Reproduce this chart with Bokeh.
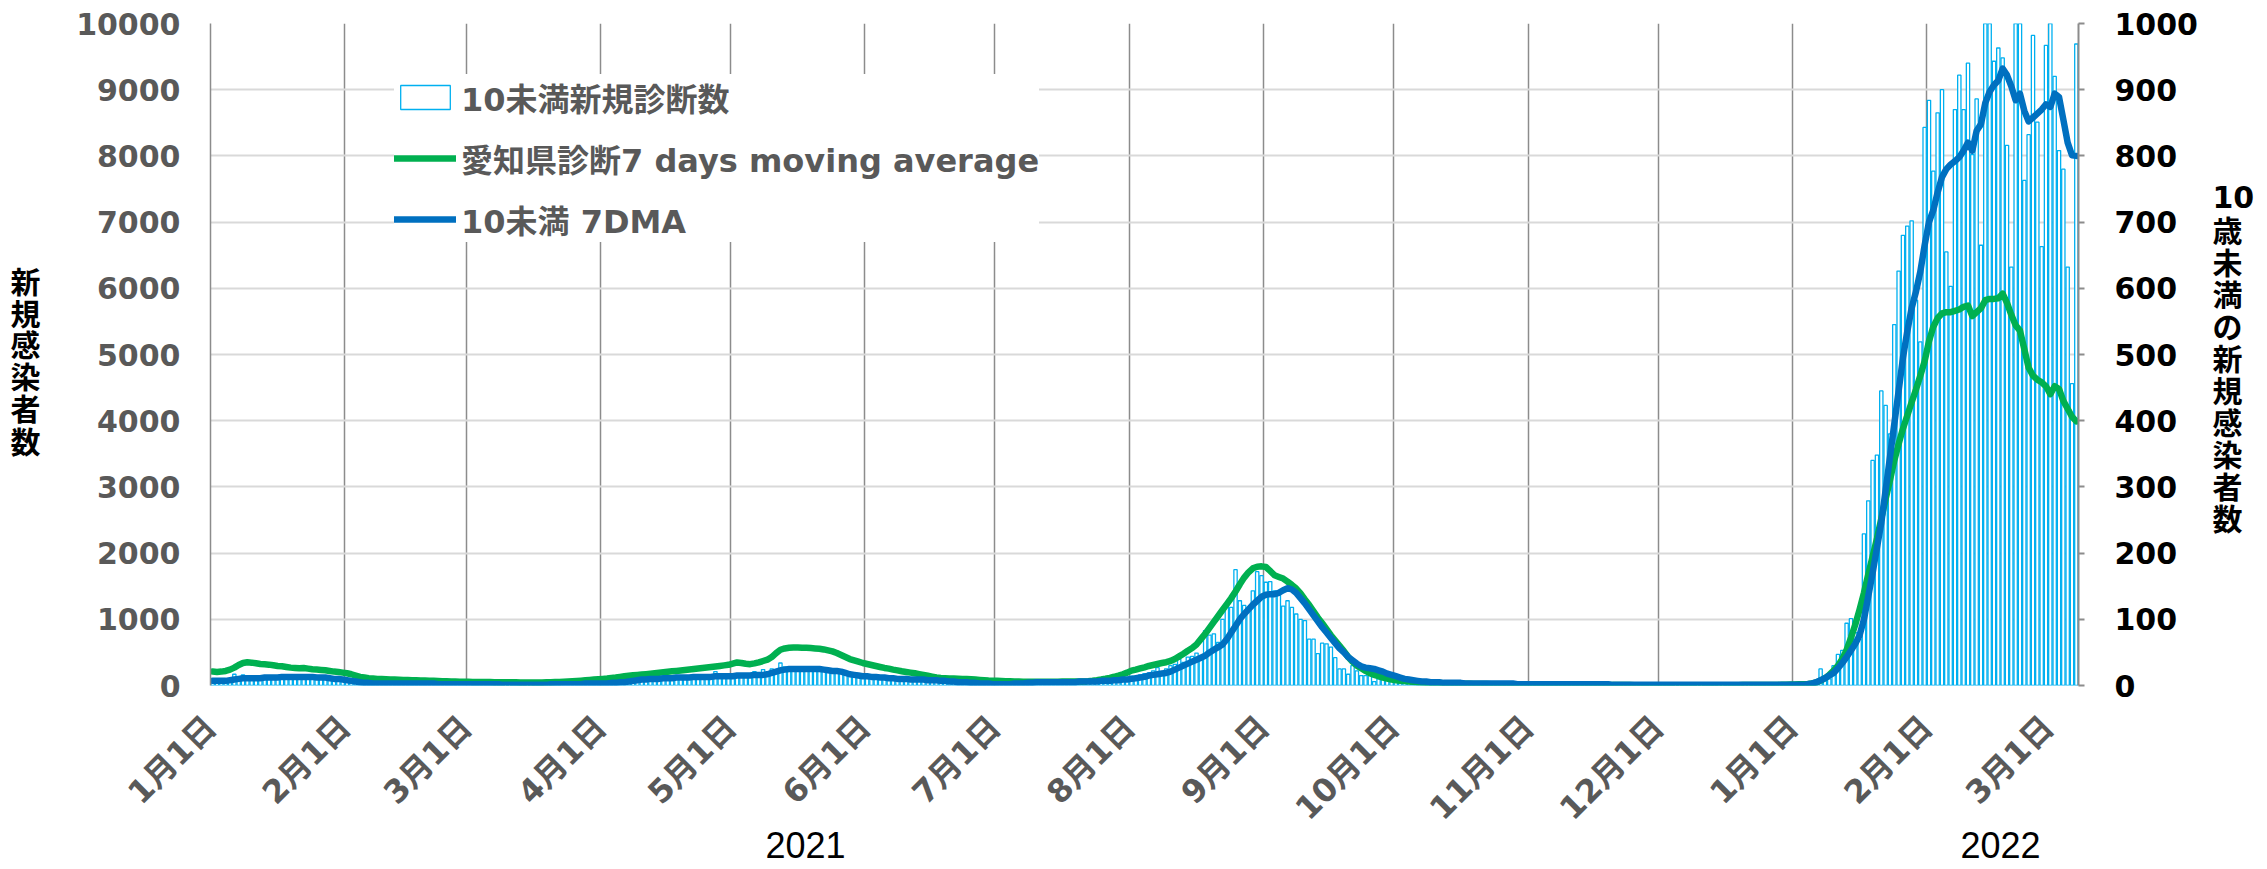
import math
from bokeh.plotting import figure
from bokeh.models import (Range1d, LinearAxis, FixedTicker, SingleIntervalTicker,
                          Legend, LegendItem)
from bokeh.embed import file_html
from bokeh.resources import INLINE

# ---------------- data (daily, 2021-01-01 .. 2022-03-07) ----------------
month_starts = [0, 31, 59, 90, 120, 151, 181, 212, 243, 273, 304, 334, 365, 396, 424]
month_labels = ["1月1日", "2月1日", "3月1日", "4月1日", "5月1日", "6月1日", "7月1日",
                "8月1日", "9月1日", "10月1日", "11月1日", "12月1日",
                "1月1日", "2月1日", "3月1日"]
year_labels = ["2021", "2022"]

# 10未満新規診断数 (right axis), per month
bars_2021_01 = [5,4,8,6,9,17,12,16,10,11,9,13,14,10,15,12,11,16,14,12,13,15,11,12,14,10,13,9,11,8,10]
bars_2021_02 = [9,7,5,4,3,5,2,4,3,2,4,3,2,3,4,2,3,5,2,3,3,1,2,3,2,1,3,2]
bars_2021_03 = [2,1,3,2,1,2,3,1,2,0,1,2,1,1,0,2,1,1,2,1,3,2,1,2,3,2,1,4,3,2,4]
bars_2021_04 = [3,4,5,3,6,7,5,8,9,10,8,11,12,9,10,13,11,12,14,10,12,15,13,11,14,12,21,13,15,14]
bars_2021_05 = [14,13,16,15,14,21,18,24,20,25,23,34,28,26,24,27,25,22,26,24,23,25,21,22,20,18,17,15,16,13,14]
bars_2021_06 = [13,12,14,11,12,10,11,9,10,11,8,9,10,8,7,9,8,6,7,5,6,5,4,6,4,3,4,3,2,3]
bars_2021_07 = [2,1,3,2,3,4,3,5,4,6,5,4,5,6,5,4,6,5,6,7,5,6,7,6,8,7,8,9,8,10,11]
bars_2021_08 = [14,12,16,18,19,22,27,20,25,30,32,40,35,43,44,49,43,83,76,78,65,100,123,118,175,128,121,113,143,172,166]
bars_2021_09 = [156,157,143,141,120,128,118,108,100,98,70,70,48,64,63,58,42,25,25,17,30,22,15,15,15,6,10,12,8,9]
bars_2021_10 = [7,5,6,4,5,3,4,3,4,2,3,4,2,3,2,3,2,3,2,4,3,2,3,2,3,2,2,3,1,2,2]
bars_2021_11 = [2,1,2,3,1,2,2,1,3,2,1,2,2,1,2,1,3,2,1,1,2,1,2,1,1,2,1,1,2,1]
bars_2021_12 = [1,1,2,1,0,1,2,1,1,0,1,1,2,1,0,1,1,1,2,1,0,1,1,2,1,1,2,1,2,3,2]
bars_2022_01 = [1,2,1,3,2,5,25,12,10,30,47,53,94,101,80,70,229,279,340,348,445,423,380,545,626,680,694,702,582,519,843]
bars_2022_02 = [884,777,865,900,655,603,870,922,870,940,802,886,665,1050,1066,943,963,948,816,632,1010,1020,763,832,982,851,663,967]
bars_2022_03 = [1035,920,808,780,632,456,969]

# 愛知県診断7 days moving average (left axis), per month
green_2021_01 = [210,205,210,220,240,270,310,340,350,345,335,325,320,315,305,295,290,280,270,265,260,265,255,245,240,235,230,220,210,205,195]
green_2021_02 = [185,170,150,130,120,110,105,100,98,95,92,90,88,85,82,80,78,76,74,72,70,68,66,64,62,60,58,56]
green_2021_03 = [55,54,53,52,52,51,50,50,50,49,48,48,47,47,46,46,46,47,48,50,52,54,57,60,63,67,72,78,84,90,96]
green_2021_04 = [100,105,112,120,130,140,148,155,160,166,172,178,185,192,200,207,214,220,227,235,242,250,258,265,272,280,288,296,304,312]
green_2021_05 = [330,348,340,328,322,335,350,370,390,430,490,540,560,570,575,575,572,570,565,560,555,545,530,515,490,460,430,400,380,360,340]
green_2021_06 = [325,310,295,280,265,255,240,228,215,205,195,185,172,160,148,135,122,115,110,106,104,102,100,98,95,90,85,80,75,72]
green_2021_07 = [70,68,66,64,62,60,58,57,56,56,56,56,57,58,58,59,60,60,60,60,62,66,72,80,90,102,116,132,150,170,195]
green_2021_08 = [225,240,258,275,295,310,325,340,352,370,400,440,480,525,565,620,700,780,870,960,1050,1140,1230,1320,1420,1530,1630,1710,1770,1795,1800]
green_2021_09 = [1790,1730,1665,1640,1615,1570,1520,1465,1390,1300,1215,1120,1025,940,850,760,680,600,520,430,360,300,260,220,185,160,140,120,105,90]
green_2021_10 = [80,72,66,60,55,50,46,43,40,38,36,34,32,30,28,27,26,25,24,23,22,21,20,19,18,17,16,15,14,13,12]
green_2021_11 = [12,11,11,10,10,10,9,9,9,8,8,8,8,7,7,7,7,7,6,6,6,6,6,6,5,5,5,5,5,5]
green_2021_12 = [5,5,5,5,5,5,5,5,5,4,4,4,4,5,5,5,5,5,5,6,6,6,6,6,7,7,8,9,10,12,14]
green_2022_01 = [16,18,20,24,30,45,75,110,160,225,300,400,540,720,920,1150,1400,1680,1950,2220,2520,2820,3100,3400,3650,3880,4080,4280,4470,4680,4900]
green_2022_02 = [5200,5420,5550,5620,5640,5640,5660,5680,5720,5740,5580,5640,5700,5820,5840,5840,5850,5920,5780,5600,5440,5360,5080,4800,4680,4620,4580,4520]
green_2022_03 = [4400,4520,4480,4300,4180,4060,3990]

# 10未満 7DMA (right axis), per month
blue_2021_01 = [7,7,7,7,8,9,10,11,11,11,11,11,12,12,12,12,13,13,13,13,13,13,13,13,12,12,12,11,10,10,9]
blue_2021_02 = [8,7,6,5,4,4,3,3,3,3,3,3,3,3,3,3,3,3,3,3,3,2,2,2,2,2,2,2]
blue_2021_03 = [2,2,2,2,2,2,2,2,1,1,1,1,1,1,1,1,1,1,1,2,2,2,2,2,2,2,2,3,3,3,3]
blue_2021_04 = [3,3,4,4,5,5,6,7,8,9,9,10,10,10,11,11,11,12,12,12,12,13,13,13,13,13,14,14,14,14]
blue_2021_05 = [14,15,15,15,15,16,16,16,17,19,21,23,24,25,25,25,25,25,25,25,25,24,23,22,22,21,19,17,16,15,14]
blue_2021_06 = [14,13,13,12,12,11,11,10,10,10,9,9,9,9,8,8,8,7,7,6,6,5,5,5,4,4,3,3,3,2]
blue_2021_07 = [2,2,2,2,3,3,3,4,4,5,5,5,5,5,5,5,5,5,5,6,6,6,6,6,7,7,7,8,8,9,9]
blue_2021_08 = [10,11,12,13,15,16,17,18,19,21,24,27,30,33,36,39,42,45,50,54,58,62,70,80,90,100,108,115,122,128,134]
blue_2021_09 = [137,138,138,140,144,147,145,140,132,124,115,106,97,88,80,72,64,56,50,43,38,33,29,27,26,25,23,21,18,16]
blue_2021_10 = [14,12,10,9,8,7,6,6,5,5,5,4,4,4,4,4,3,3,3,3,3,3,3,3,3,3,3,3,2,2,2]
blue_2021_11 = [2,2,2,2,2,2,2,2,2,2,2,2,2,2,2,2,2,2,2,1,1,1,1,1,1,1,1,1,1,1]
blue_2021_12 = [1,1,1,1,1,1,1,1,1,1,1,1,1,1,1,1,1,1,1,1,1,1,1,1,1,1,1,1,1,1,1]
blue_2022_01 = [1,1,1,2,3,5,8,11,15,19,26,34,43,53,63,76,100,135,170,208,246,295,345,395,445,495,535,570,595,625,665]
blue_2022_02 = [700,718,745,768,780,787,792,798,808,820,808,838,848,880,897,907,914,932,922,905,884,894,868,852,858,864,870,878]
blue_2022_03 = [874,894,889,855,820,801,800]

legend_labels = ["10未満新規診断数", "愛知県診断7 days moving average", "10未満 7DMA"]
left_title = ["新", "規", "感", "染", "者", "数"]
right_title = ["10", "歳", "未", "満", "の", "新", "規", "感", "染", "者", "数"]

bars = (bars_2021_01 + bars_2021_02 + bars_2021_03 + bars_2021_04 + bars_2021_05 + bars_2021_06 +
        bars_2021_07 + bars_2021_08 + bars_2021_09 + bars_2021_10 + bars_2021_11 + bars_2021_12 +
        bars_2022_01 + bars_2022_02 + bars_2022_03)
green = (green_2021_01 + green_2021_02 + green_2021_03 + green_2021_04 + green_2021_05 + green_2021_06 +
         green_2021_07 + green_2021_08 + green_2021_09 + green_2021_10 + green_2021_11 + green_2021_12 +
         green_2022_01 + green_2022_02 + green_2022_03)
blue = (blue_2021_01 + blue_2021_02 + blue_2021_03 + blue_2021_04 + blue_2021_05 + blue_2021_06 +
        blue_2021_07 + blue_2021_08 + blue_2021_09 + blue_2021_10 + blue_2021_11 + blue_2021_12 +
        blue_2022_01 + blue_2022_02 + blue_2022_03)
n = len(bars)
days = list(range(n))

# ---------------- layout helpers (page pixels) ----------------
W, H = 2259, 869
FL, FR, FT, FB = 210, 2078, 23, 685
PX_PER_DAY = (FR - FL) / n
def xd(px):
    return round((px - FL) / PX_PER_DAY - 0.5, 2)
def yl(py):   # page y -> left-axis value
    return round((FB - py) * 10000.0 / (FB - FT), 1)
def yr(py):   # page y -> right-axis value
    return round((FB - py) * 1000.0 / (FB - FT), 2)

GRAY_TXT = "#595959"
NUM_FONT = "DejaVu Sans, Noto Sans CJK JP"
CJK_FONT = "Noto Sans CJK JP"

p = figure(width=W, height=H, x_range=Range1d(-0.5, n - 0.5), y_range=Range1d(0, 10000),
           output_backend="svg", toolbar_location=None,
           min_border_left=FL, min_border_right=W - FR,
           min_border_top=FT, min_border_bottom=H - FB)
p.outline_line_color = None
p.background_fill_color = "white"
p.extra_y_ranges = {"r": Range1d(0, 1000)}

tick_pos = [m - 0.5 for m in month_starts]

def plain(ax):
    ax.axis_line_color = None
    ax.major_tick_line_color = None
    ax.minor_tick_line_color = None
    ax.major_tick_out = 0
    ax.major_tick_in = 0

# x axis (month labels)
xa = p.xaxis[0]
xa.ticker = FixedTicker(ticks=tick_pos)
xa.major_label_overrides = {t: lab for t, lab in zip(tick_pos, month_labels)}
xa.major_label_orientation = math.pi / 4
plain(xa)
xa.major_label_text_font = NUM_FONT
xa.major_label_text_font_style = "bold"
xa.major_label_text_font_size = "32px"
xa.major_label_text_color = GRAY_TXT
xa.major_label_standoff = 36

# year labels as a second bottom axis
year_pos = [xd(805), xd(2000)]
ya2 = LinearAxis(ticker=FixedTicker(ticks=year_pos),
                 major_label_overrides={t: s for t, s in zip(year_pos, year_labels)})
plain(ya2)
ya2.major_label_text_font = "Liberation Sans"
ya2.major_label_text_font_size = "36px"
ya2.major_label_text_color = "black"
ya2.major_label_standoff = -12
p.add_layout(ya2, "below")

# left axis
la = p.yaxis[0]
la.ticker = SingleIntervalTicker(interval=1000, num_minor_ticks=0)
la.axis_line_color = "#8C8C8C"
la.axis_line_width = 1.5
la.major_tick_line_color = None
la.minor_tick_line_color = None
la.major_tick_out = 0
la.major_label_text_font = NUM_FONT
la.major_label_text_font_style = "bold"
la.major_label_text_font_size = "30px"
la.major_label_text_color = GRAY_TXT
la.major_label_standoff = 30

# left title: stacked characters as an outer axis
lt_pos = [yl(279 + 32 * i) for i in range(len(left_title))]
lt = LinearAxis(ticker=FixedTicker(ticks=lt_pos),
                major_label_overrides={t: c for t, c in zip(lt_pos, left_title)})
plain(lt)
lt.major_label_text_font = CJK_FONT
lt.major_label_text_font_style = "bold"
lt.major_label_text_font_size = "30px"
lt.major_label_text_color = "black"
lt.major_label_standoff = 33
p.add_layout(lt, "left")

# right axis
ra = LinearAxis(y_range_name="r", ticker=SingleIntervalTicker(interval=100, num_minor_ticks=0))
ra.axis_line_color = "#8C8C8C"
ra.axis_line_width = 2
ra.major_tick_line_color = "#8C8C8C"
ra.major_tick_line_width = 2
ra.major_tick_out = 6
ra.major_tick_in = 0
ra.minor_tick_line_color = None
ra.major_label_text_font = NUM_FONT
ra.major_label_text_font_style = "bold"
ra.major_label_text_font_size = "30px"
ra.major_label_text_color = "black"
ra.major_label_standoff = 30
p.add_layout(ra, "right")

# right title: stacked characters as an outer axis
rt_pos = [yr(197)] + [yr(231 + 32 * i) for i in range(len(right_title) - 1)]
rt = LinearAxis(y_range_name="r", ticker=FixedTicker(ticks=rt_pos),
                major_label_overrides={t: c for t, c in zip(rt_pos, right_title)})
plain(rt)
rt.major_label_text_font = NUM_FONT
rt.major_label_text_font_style = "bold"
rt.major_label_text_font_size = "30px"
rt.major_label_text_color = "black"
rt.major_label_standoff = 12
p.add_layout(rt, "right")

# grids
p.xgrid.ticker = FixedTicker(ticks=tick_pos)
p.xgrid.grid_line_color = "#8C8C8C"
p.xgrid.grid_line_width = 1.5
p.ygrid.grid_line_color = "#D9D9D9"
p.ygrid.grid_line_width = 2

# glyphs
r_bar = p.vbar(x=days, top=bars, width=0.76, bottom=0, y_range_name="r",
               fill_color="white", line_color="#00B0F0", line_width=1.3)
r_green = p.line(days, green, line_color="#00B050", line_width=6.5, line_join="round", line_cap="round")
r_blue = p.line(days, blue, line_color="#0070C0", line_width=6.5, line_join="round", line_cap="round",
                y_range_name="r")

legend = Legend(items=[LegendItem(label=legend_labels[0], renderers=[r_bar]),
                       LegendItem(label=legend_labels[1], renderers=[r_green]),
                       LegendItem(label=legend_labels[2], renderers=[r_blue])],
                location=(394 - FL, FB - 242), margin=0, padding=23, spacing=15,
                glyph_width=62, glyph_height=30, label_height=30, label_standoff=5,
                label_text_font=NUM_FONT, label_text_font_style="bold",
                label_text_font_size="32px", label_text_color=GRAY_TXT,
                background_fill_color="white", background_fill_alpha=1.0,
                border_line_color=None)
p.add_layout(legend)

open("out.html", "w").write(file_html(p, INLINE))
